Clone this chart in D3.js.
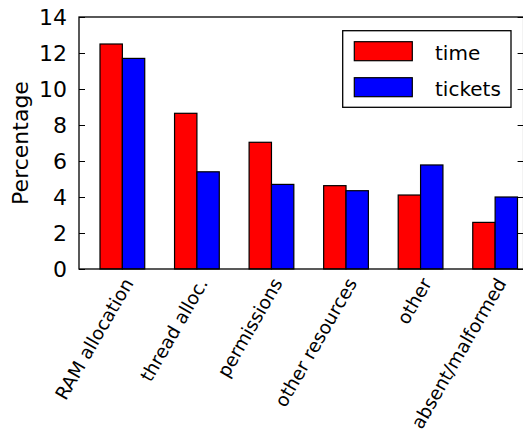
<!DOCTYPE html>
<html><head><meta charset="utf-8">
<script src="https://cdn.jsdelivr.net/npm/d3@7"></script>
<style>
html,body{margin:0;padding:0;background:#fff;}
svg{display:block;font-family:"DejaVu Sans",sans-serif;}
</style></head>
<body>
<svg id="chart" width="523" height="434"></svg>
<script>
const categories = ["RAM allocation","thread alloc.","permissions","other resources","other","absent/malformed"];
const timeValues = [12.5, 8.65, 7.04, 4.63, 4.11, 2.59];
const ticketValues = [11.7, 5.4, 4.7, 4.35, 5.78, 4.0];
const seriesNames = ["time","tickets"];
const seriesColors = ["#ff0000","#0000ff"];
const yTicks = [0,2,4,6,8,10,12,14];

const svg = d3.select("#chart");
const L = 79, R = 523.6, T = 17, B = 269;
const barW = 0.3;
const x = d3.scaleLinear().domain([-0.2817, 5.682]).range([L, R]);
const y = d3.scaleLinear().domain([0, 14]).range([B, T]);

// bars
const series = [timeValues, ticketValues];
series.forEach((vals, s) => {
  svg.append("g").selectAll("rect").data(vals).join("rect")
    .attr("x", (d,i) => x(i + s*barW))
    .attr("y", d => y(d))
    .attr("width", (d,i) => x(i + (s+1)*barW) - x(i + s*barW))
    .attr("height", d => y(0) - y(d))
    .attr("fill", seriesColors[s])
    .attr("stroke", "#000")
    .attr("stroke-width", 1.2);
});

// left axis
const yAxisL = d3.axisLeft(y).tickValues(yTicks).tickSize(-6).tickPadding(12).tickFormat(d3.format("d"));
const gL = svg.append("g").attr("transform", `translate(${L},0)`).call(yAxisL);
gL.select(".domain").remove();
gL.selectAll("text").attr("font-size", 22).attr("font-family","DejaVu Sans").attr("fill","#000");
gL.selectAll("line").attr("stroke","#000");

// right axis ticks
const yAxisR = d3.axisRight(y).tickValues(yTicks).tickSize(-6).tickFormat("");
const gR = svg.append("g").attr("transform", `translate(${R},0)`).call(yAxisR);
gR.select(".domain").remove();
gR.selectAll("line").attr("stroke","#000");

// frame
svg.append("rect").attr("x", L).attr("y", T).attr("width", R - L).attr("height", B - T)
  .attr("fill","none").attr("stroke","#000").attr("stroke-width",1.3);

// x labels
svg.append("g").selectAll("text").data(categories).join("text")
  .attr("transform", (d,i) => `translate(${x(i) + 34},283) rotate(-60)`)
  .attr("text-anchor","end")
  .attr("font-size", 18.5)
  .attr("fill","#000")
  .text(d => d);

// y label
svg.append("text")
  .attr("transform", `translate(28,143) rotate(-90)`)
  .attr("text-anchor","middle")
  .attr("font-size", 22)
  .attr("fill","#000")
  .text("Percentage");

// legend
const lg = svg.append("g");
lg.append("rect").attr("x",342.7).attr("y",30.7).attr("width",168.3).attr("height",76.6)
  .attr("fill","#fff").attr("stroke","#000").attr("stroke-width",1.3);
seriesNames.forEach((n, k) => {
  lg.append("rect").attr("x",354.3).attr("y",41.7 + k*36).attr("width",58).attr("height",19)
    .attr("fill", seriesColors[k]).attr("stroke","#000").attr("stroke-width",1.2);
  lg.append("text").attr("x",435).attr("y",59.5 + k*36).attr("font-size",20).attr("fill","#000").text(n);
});
</script>
</body></html>
